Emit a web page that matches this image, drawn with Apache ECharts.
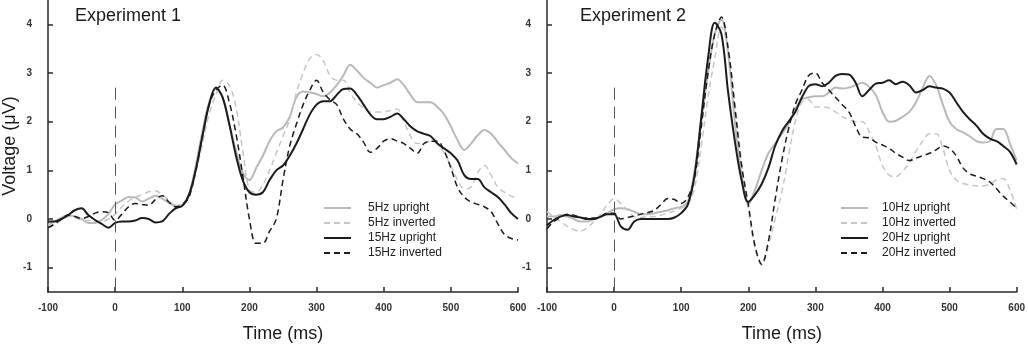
<!DOCTYPE html>
<html><head><meta charset="utf-8">
<script src="https://cdn.jsdelivr.net/npm/echarts@6/dist/echarts.min.js"></script>
<style>html,body{margin:0;padding:0;background:#fff}#c{width:1028px;height:348px}</style>
</head><body><div id="c"></div>
<script>
var times = [-100,-90,-80,-70,-60,-50,-40,-30,-20,-10,0,10,20,30,40,50,60,70,80,90,100,110,120,130,140,150,160,170,180,190,200,210,220,230,240,250,260,270,280,290,300,310,320,330,340,350,360,370,380,390,400,410,420,430,440,450,460,470,480,490,500,510,520,530,540,550,560,570,580,590,600];
var yTicks = [-1,0,1,2,3,4];
var titles = ['Experiment 1','Experiment 2'];
var namesLeft = ['5Hz upright','5Hz inverted','15Hz upright','15Hz inverted'];
var namesRight = ['10Hz upright','10Hz inverted','20Hz upright','20Hz inverted'];

var hz5Upright = [-0.12,-0.05,0.03,0.08,0.05,0.0,-0.08,-0.08,-0.02,0.1,0.3,0.38,0.45,0.44,0.36,0.42,0.48,0.42,0.33,0.27,0.28,0.5,1.1,1.8,2.4,2.68,2.5,1.95,1.4,0.95,0.8,1.05,1.3,1.6,1.8,1.88,2.1,2.5,2.62,2.6,2.57,2.52,2.6,2.75,2.95,3.17,3.05,2.9,2.8,2.7,2.75,2.8,2.87,2.75,2.55,2.4,2.4,2.4,2.3,2.15,1.9,1.62,1.42,1.55,1.72,1.83,1.75,1.58,1.42,1.25,1.14];
var hz5Inverted = [-0.18,-0.12,-0.02,0.05,0.03,-0.02,-0.03,-0.05,-0.05,0.0,0.1,0.25,0.37,0.45,0.5,0.56,0.58,0.5,0.38,0.28,0.3,0.45,0.95,1.55,2.15,2.55,2.85,2.75,2.3,1.4,0.6,0.55,0.7,1.0,1.35,1.7,2.05,2.6,3.0,3.3,3.38,3.25,2.95,2.85,2.85,2.6,2.4,2.28,2.2,2.2,2.2,2.23,2.26,2.0,1.7,1.55,1.55,1.6,1.55,1.35,1.1,0.8,0.62,0.65,0.95,1.1,0.9,0.65,0.55,0.47,0.42];
var hz15Upright = [-0.05,-0.05,0.0,0.08,0.18,0.22,0.08,-0.02,-0.1,-0.18,-0.08,-0.05,-0.05,-0.03,0.02,0.0,-0.07,-0.05,0.1,0.22,0.27,0.5,1.0,1.7,2.35,2.7,2.5,1.95,1.3,0.8,0.55,0.5,0.55,0.8,1.0,1.1,1.3,1.55,1.85,2.15,2.35,2.42,2.42,2.55,2.67,2.68,2.55,2.35,2.15,2.05,2.05,2.1,2.17,2.05,1.9,1.8,1.75,1.7,1.55,1.45,1.35,1.2,0.9,0.82,0.82,0.65,0.55,0.45,0.3,0.12,0.0];
var hz15Inverted = [-0.18,-0.1,0.0,0.08,0.05,0.01,0.05,0.12,0.15,0.13,-0.03,0.1,0.25,0.32,0.3,0.28,0.4,0.48,0.35,0.25,0.3,0.45,1.0,1.7,2.35,2.65,2.75,2.4,1.75,0.9,0.0,-0.5,-0.5,-0.25,0.0,0.8,1.5,1.95,2.35,2.65,2.85,2.6,2.45,2.35,2.05,1.85,1.75,1.58,1.37,1.45,1.6,1.65,1.6,1.55,1.45,1.35,1.55,1.6,1.6,1.4,1.05,0.65,0.45,0.35,0.3,0.25,0.15,-0.1,-0.32,-0.4,-0.43];

var hz10Upright = [0.05,0.05,0.08,0.05,0.0,-0.05,-0.05,0.0,0.05,0.12,0.2,0.22,0.2,0.15,0.1,0.1,0.12,0.15,0.18,0.22,0.25,0.35,1.0,2.0,3.0,3.8,4.1,3.4,2.0,0.9,0.3,0.6,1.0,1.35,1.55,1.75,1.95,2.25,2.46,2.5,2.52,2.52,2.6,2.7,2.68,2.7,2.75,2.8,2.72,2.55,2.2,2.0,2.02,2.1,2.2,2.4,2.7,2.94,2.75,2.35,2.0,1.85,1.78,1.7,1.6,1.57,1.6,1.85,1.85,1.55,1.2];
var hz10Inverted = [0.15,0.05,-0.05,-0.15,-0.22,-0.25,-0.18,-0.05,0.1,0.3,0.42,0.32,0.18,0.05,0.03,0.05,0.05,0.08,0.12,0.16,0.22,0.3,0.65,1.5,2.5,3.3,3.95,3.5,2.4,1.15,0.2,-0.6,-0.95,-0.55,0.0,0.55,1.3,2.0,2.4,2.45,2.3,2.3,2.28,2.2,2.1,2.05,2.0,2.0,1.8,1.5,1.1,0.9,0.87,0.98,1.15,1.4,1.6,1.75,1.75,1.45,1.0,0.8,0.73,0.7,0.68,0.68,0.72,0.8,0.83,0.6,0.2];
var hz20Upright = [-0.13,-0.02,0.05,0.08,0.05,0.03,0.0,0.0,0.05,0.1,0.1,-0.15,-0.22,-0.05,0.0,0.0,0.0,0.0,0.0,0.03,0.12,0.3,0.9,2.1,3.3,4.03,3.8,2.6,1.6,0.8,0.35,0.5,0.72,1.05,1.5,1.8,2.0,2.2,2.5,2.73,2.77,2.73,2.8,2.94,2.98,2.97,2.8,2.52,2.65,2.78,2.8,2.85,2.77,2.82,2.75,2.6,2.65,2.73,2.7,2.68,2.6,2.4,2.2,2.05,1.92,1.75,1.65,1.6,1.5,1.38,1.12];
var hz20Inverted = [-0.2,-0.05,0.03,0.1,0.08,0.03,0.02,0.02,0.05,0.12,0.12,0.0,0.03,0.06,0.1,0.13,0.18,0.3,0.42,0.4,0.32,0.45,0.85,1.9,3.0,3.8,4.15,3.5,2.3,1.1,0.3,-0.55,-0.93,-0.45,0.4,1.2,1.85,2.35,2.65,2.95,3.0,2.8,2.65,2.5,2.35,2.2,1.9,1.68,1.67,1.58,1.52,1.45,1.35,1.27,1.2,1.25,1.3,1.35,1.42,1.5,1.45,1.3,1.05,0.93,0.88,0.83,0.76,0.62,0.47,0.35,0.22];

function pairs(v){ return times.map(function(t,i){ return [t, v[i]]; }); }

var styles = [
  {color:'#b9b9b9', type:'solid', width:2},
  {color:'#c6c6c6', type:[6,4], width:1.5},
  {color:'#1c1c1c', type:'solid', width:2},
  {color:'#1c1c1c', type:[6,4], width:1.5}
];
var leftData = [hz5Upright,hz5Inverted,hz15Upright,hz15Inverted];
var rightData = [hz10Upright,hz10Inverted,hz20Upright,hz20Inverted];

var FONT = 'Liberation Sans, Arial, sans-serif';
function xAxis(idx){
  return {type:'value', gridIndex:idx, min:-100, max:600, interval:100,
    axisLine:{show:true, onZero:false, lineStyle:{color:'#2a2a2a', width:1.5}},
    axisTick:{show:true, inside:true, length:5, lineStyle:{color:'#2a2a2a', width:1.5}},
    axisLabel:{color:'#333', fontSize:10, fontWeight:'bold', fontFamily:FONT, margin:11},
    splitLine:{show:false},
    name:'Time (ms)', nameLocation:'middle', nameGap:33,
    nameTextStyle:{color:'#1a1a1a', fontSize:18, fontFamily:FONT}
  };
}
function yAxis(idx){
  var a = {type:'value', gridIndex:idx, min:-1.5, max:4.5,
    axisLine:{show:true, onZero:false, lineStyle:{color:'#2a2a2a', width:1.5}},
    axisTick:{show:true, inside:true, length:5, customValues:yTicks, lineStyle:{color:'#2a2a2a', width:1.5}},
    axisLabel:{color:'#333', fontSize:10, fontWeight:'bold', fontFamily:FONT, margin:16, customValues:yTicks},
    splitLine:{show:false}
  };
  if(idx===0){
    a.name='Voltage (μV)'; a.nameLocation='middle'; a.nameGap=29; a.nameRotate=90;
    a.nameTextStyle={color:'#1a1a1a', fontSize:18, fontFamily:FONT};
  }
  return a;
}
var series = [];
function addSeries(names, data, idx){
  names.forEach(function(n,i){
    var s = {name:n, type:'line', xAxisIndex:idx, yAxisIndex:idx, data:pairs(data[i]),
      smooth:0.35, symbol:'none', showSymbol:false, animation:false,
      lineStyle:{color:styles[i].color, type:styles[i].type, width:styles[i].width},
      itemStyle:{color:styles[i].color}, z:(i===2||i===3)?3:2};
    if(i===0){
      s.markLine = {silent:true, symbol:['none','none'], animation:false, label:{show:false},
        lineStyle:{color:'#555', type:[12,7], width:1},
        data:[[{coord:[0,2.7]},{coord:[0,-1.5]}]]};
    }
    series.push(s);
  });
}
addSeries(namesLeft, leftData, 0);
addSeries(namesRight, rightData, 1);

var legendText = {fontSize:12, color:'#222', fontFamily:'Liberation Sans Narrow, Arial Narrow, '+FONT};
var chart = echarts.init(document.getElementById('c'), null, {renderer:'canvas'});
chart.setOption({
  animation:false,
  backgroundColor:'#fff',
  grid:[{left:44, top:0, width:474, height:294}, {left:547, top:0, width:470, height:294}],
  xAxis:[xAxis(0), xAxis(1)],
  yAxis:[yAxis(0), yAxis(1)],
  title:[
    {text:titles[0], left:70, top:2, textStyle:{fontSize:18, fontWeight:'normal', color:'#1a1a1a', fontFamily:FONT}},
    {text:titles[1], left:575, top:2, textStyle:{fontSize:18, fontWeight:'normal', color:'#1a1a1a', fontFamily:FONT}}
  ],
  legend:[
    {data:namesLeft, orient:'vertical', left:318, top:199, itemWidth:27, itemHeight:14, itemGap:1, padding:[2,5,2,5],
      itemStyle:{opacity:0}, textStyle:Object.assign({padding:[0,0,0,12], lineHeight:14}, legendText)},
    {data:namesRight, orient:'vertical', left:835, top:199, itemWidth:27, itemHeight:14, itemGap:1, padding:[2,5,2,5],
      itemStyle:{opacity:0}, textStyle:Object.assign({padding:[0,0,0,9], lineHeight:14}, legendText)}
  ],
  series:series
});
</script>
</body></html>
